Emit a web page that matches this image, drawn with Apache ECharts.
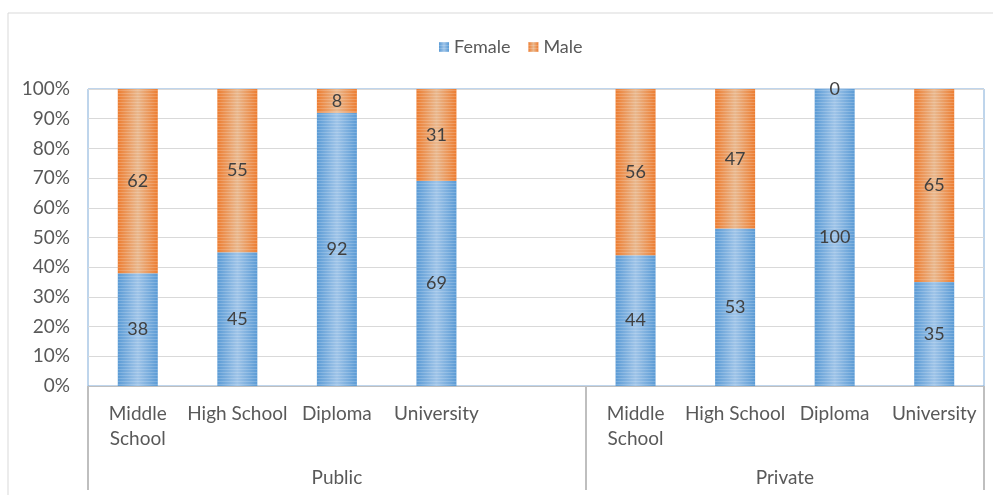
<!DOCTYPE html>
<html>
<head>
<meta charset="utf-8">
<script src="https://cdn.jsdelivr.net/npm/echarts@6/dist/echarts.min.js"></script>
<style>
  html, body { margin: 0; padding: 0; background: #fff; }
  #chart { width: 993px; height: 495px; }
</style>
</head>
<body>
<div id="chart"></div>
<script>
// School levels for each sector; an empty slot separates Public from Private
const categories = ['Middle\nSchool', 'High School', 'Diploma', 'University', '',
                    'Middle\nSchool', 'High School', 'Diploma', 'University'];
const female = [38, 45, 92, 69, null, 44, 53, 100, 35];
const male   = [62, 55, 8, 31, null, 56, 47, 0, 65];
const groups = ['Public', 'Private'];
const yTicks = [0, 10, 20, 30, 40, 50, 60, 70, 80, 90, 100];

const FONT = 'Lato, "Open Sans", sans-serif';
const TEXT = '#595959';

function barFill(edge, mid) {
  return new echarts.graphic.LinearGradient(0, 0, 1, 0, [
    { offset: 0, color: edge },
    { offset: 0.5, color: mid },
    { offset: 1, color: edge }
  ]);
}
const stripes = {
  symbol: 'rect',
  symbolSize: 1,
  dashArrayX: [1, 0],
  dashArrayY: [1, 2],
  rotation: 0,
  color: 'rgba(255,255,255,0.18)'
};

const chart = echarts.init(document.getElementById('chart'));
const slotCount = categories.length;
// boundary positions for the grouping axis (0 .. slotCount)
const groupEdges = [0, 5, slotCount];
const groupCenters = [2.5, 7];

chart.setOption({
  animation: false,
  aria: { enabled: true, decal: { show: true } },
  textStyle: { fontFamily: FONT },
  graphic: [{
    type: 'rect',
    shape: { x: 8, y: 13, width: 1000, height: 500 },
    style: { fill: 'none', stroke: '#d9d9d9', lineWidth: 1 },
    silent: true, z: -10
  }],
  legend: {
    top: 33,
    left: 434,
    itemWidth: 10,
    itemHeight: 10,
    itemGap: 18,
    icon: 'rect',
    textStyle: { fontSize: 18, color: TEXT, fontFamily: FONT }
  },
  grid: {
    left: 88, right: 9, top: 89, bottom: 109,
    show: true, borderColor: '#7fabd8', borderWidth: 1, backgroundColor: 'transparent',
    containLabel: false
  },
  xAxis: [{
    type: 'category',
    data: categories,
    position: 'bottom',
    axisLine: { show: true, lineStyle: { color: '#bfbfbf', width: 1 } },
    axisTick: { show: false },
    axisLabel: {
      interval: 0, color: TEXT, fontSize: 19, fontFamily: FONT,
      margin: 15, lineHeight: 25, align: 'center', verticalAlign: 'top'
    },
    splitLine: { show: false }
  }, {
    type: 'value',
    position: 'bottom',
    min: 0, max: slotCount,
    axisLine: { show: false },
    axisTick: {
      show: true, customValues: groupEdges, length: 104, inside: false,
      lineStyle: { color: '#bfbfbf', width: 2 }
    },
    axisLabel: {
      show: true, customValues: groupCenters, margin: 82,
      color: TEXT, fontSize: 19, fontFamily: FONT,
      formatter: v => (v === groupCenters[0] ? groups[0] : v === groupCenters[1] ? groups[1] : '')
    },
    splitLine: { show: false }
  }],
  yAxis: {
    type: 'value',
    min: 0, max: 100, interval: 10,
    axisLine: { show: false },
    axisTick: { show: false },
    axisLabel: {
      color: TEXT, fontSize: 19, fontFamily: FONT, margin: 18,
      customValues: yTicks,
      formatter: v => v + '%'
    },
    splitLine: { lineStyle: { color: '#d9d9d9', width: 1 } }
  },
  series: [{
    name: 'Female',
    type: 'bar',
    stack: 'total',
    barWidth: 40,
    data: female,
    itemStyle: { color: barFill('#5b9bd5', '#9fc4e8'), decal: stripes },
    label: { show: true, position: 'inside', color: '#404040', fontSize: 18, fontFamily: FONT }
  }, {
    name: 'Male',
    type: 'bar',
    stack: 'total',
    barWidth: 40,
    data: male,
    itemStyle: { color: barFill('#ed7d31', '#e9b88e'), decal: stripes },
    label: { show: true, position: 'inside', color: '#404040', fontSize: 18, fontFamily: FONT }
  }],
  color: ['#5b9bd5', '#ed7d31']
});
</script>
</body>
</html>
